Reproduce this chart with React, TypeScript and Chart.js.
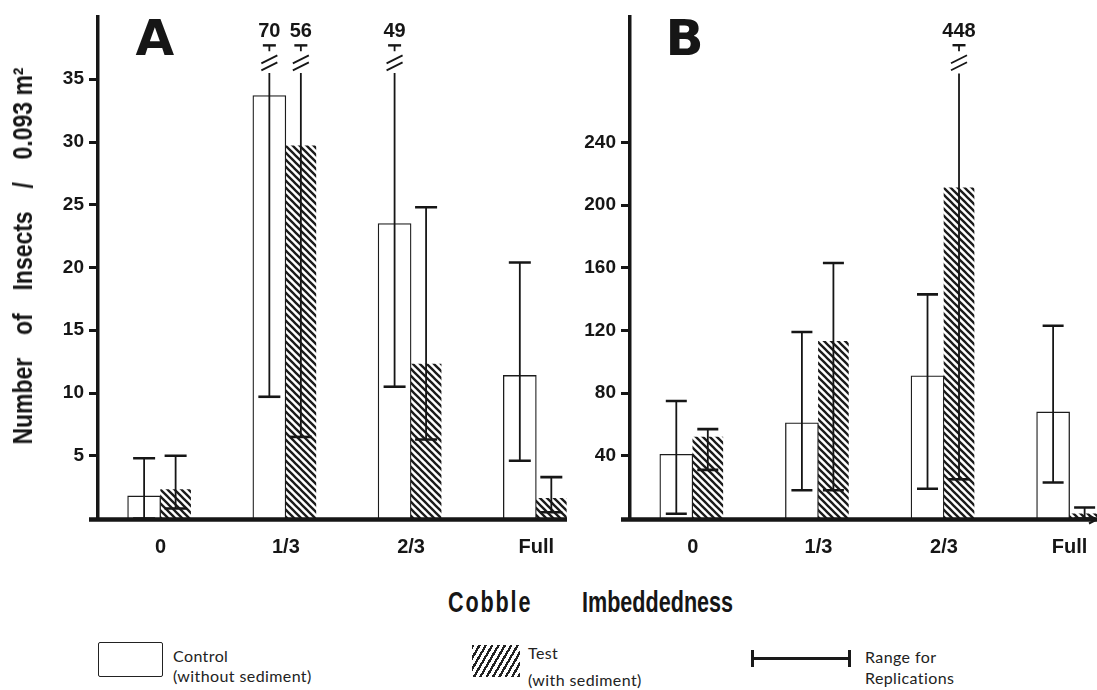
import React, { useEffect, useRef } from 'react';
import { Chart, registerables } from 'chart.js';

Chart.register(...registerables);

// ---------- data ----------
const categories = ['0', '1/3', '2/3', 'Full'];
const catPos = [0, 1, 2, 3];

// Panel A
const controlA = [1.8, 33.7, 23.5, 11.4];
const testA = [2.3, 29.7, 12.3, 1.6];
const controlALow = [0, 9.7, 10.5, 4.6];
const controlAHigh = [4.8, 70, 49, 20.4];
const testALow = [0.8, 6.5, 6.3, 0.5];
const testAHigh = [5.0, 56, 24.8, 3.3];
const ticksA = [5, 10, 15, 20, 25, 30, 35];

// Panel B
const controlB = [41, 61, 91, 68];
const testB = [52, 113, 211, 3];
const controlBLow = [3, 18, 19, 23];
const controlBHigh = [75, 119, 143, 123];
const testBLow = [31, 18, 25, 0];
const testBHigh = [57, 163, 448, 7];
const ticksB = [40, 80, 120, 160, 200, 240];

const INK = '#161616';
const SANS = '"Liberation Sans", Arial, sans-serif';
const LEGEND = 'Lato, "Open Sans", sans-serif';

function makeHatch(): CanvasPattern | string {
  const s = 7;
  const c = document.createElement('canvas');
  c.width = s;
  c.height = s;
  const g = c.getContext('2d');
  if (!g) return '#555';
  g.strokeStyle = '#1a1a1a';
  g.lineWidth = 2.3;
  for (const k of [-1, 0, 1]) {
    g.beginPath();
    g.moveTo(-1, -1 + k * s);
    g.lineTo(s + 1, s + 1 + k * s);
    g.stroke();
  }
  return g.createPattern(c, 'repeat') || '#555';
}

const rangePlugin = {
  id: 'rangeBars',
  afterDatasetsDraw(chart: any, _args: any, opts: any) {
    const ctx = chart.ctx;
    const y = chart.scales.y;
    ctx.save();
    ctx.strokeStyle = INK;
    ctx.fillStyle = INK;
    ctx.font = `bold 20px ${SANS}`;
    ctx.textAlign = 'center';
    ctx.textBaseline = 'middle';
    opts.ranges.forEach((r: any, di: number) => {
      const meta = chart.getDatasetMeta(di);
      meta.data.forEach((bar: any, j: number) => {
        const x = bar.x;
        const lo = r.low[j];
        const hi = r.high[j];
        const broken = hi > y.max;
        const yLo = y.getPixelForValue(lo);
        const yHi = y.getPixelForValue(broken ? opts.breakAt : hi);
        ctx.lineWidth = 1.8;
        ctx.beginPath();
        ctx.moveTo(x, yLo);
        ctx.lineTo(x, yHi);
        ctx.stroke();
        ctx.lineWidth = 2.6;
        ctx.beginPath();
        ctx.moveTo(x - opts.capHalf, yLo);
        ctx.lineTo(x + opts.capHalf, yLo);
        if (!broken) {
          ctx.moveTo(x - opts.capHalf, yHi);
          ctx.lineTo(x + opts.capHalf, yHi);
        }
        ctx.stroke();
        if (broken) {
          const yc = y.getPixelForValue(opts.capAt);
          ctx.lineWidth = 1.8;
          ctx.beginPath();
          ctx.moveTo(x, yc);
          ctx.lineTo(x, yc + 6);
          ctx.moveTo(x - 8, yc + 18);
          ctx.lineTo(x + 8, yc + 10);
          ctx.moveTo(x - 8, yc + 25);
          ctx.lineTo(x + 8, yc + 17);
          ctx.stroke();
          ctx.lineWidth = 2.4;
          ctx.beginPath();
          ctx.moveTo(x - 6.5, yc);
          ctx.lineTo(x + 6.5, yc);
          ctx.stroke();
          ctx.fillText(String(hi), x, yc - 14);
        }
      });
    });
    // baseline
    const area = chart.chartArea;
    const y0 = y.getPixelForValue(0) + 1;
    ctx.lineWidth = 4.5;
    ctx.beginPath();
    ctx.moveTo(area.left - opts.extendLeft, y0);
    ctx.lineTo(area.right, y0);
    ctx.stroke();
    if (opts.arrow) {
      ctx.beginPath();
      ctx.moveTo(area.right - 8, y0 - 4);
      ctx.lineTo(area.right, y0);
      ctx.lineTo(area.right - 8, y0 + 4);
      ctx.lineWidth = 2;
      ctx.stroke();
    }
    ctx.restore();
  },
};

interface Panel {
  control: number[];
  test: number[];
  controlLow: number[];
  controlHigh: number[];
  testLow: number[];
  testHigh: number[];
  ticks: number[];
  yMax: number;
  xMax: number;
  yWidth: number;
  padTop: number;
  padRight: number;
  xHeight: number;
  breakAt: number;
  capAt: number;
  capHalf: number;
  arrow: boolean;
}

function buildConfig(p: Panel, hatch: any): any {
  return {
    type: 'bar',
    data: {
      datasets: [
        {
          label: 'Control',
          data: catPos.map((x, i) => ({ x, y: p.control[i] })),
          backgroundColor: '#ffffff',
          borderColor: '#1c1c1c',
          borderWidth: 1.3,
          barThickness: 33,
        },
        {
          label: 'Test',
          data: catPos.map((x, i) => ({ x, y: p.test[i] })),
          backgroundColor: hatch,
          borderWidth: 0,
          barThickness: 30,
        },
      ],
    },
    options: {
      responsive: false,
      animation: false,
      events: [],
      layout: { padding: { top: p.padTop, right: p.padRight, left: 0, bottom: 0 } },
      plugins: {
        legend: { display: false },
        tooltip: { enabled: false },
        rangeBars: {
          ranges: [
            { low: p.controlLow, high: p.controlHigh },
            { low: p.testLow, high: p.testHigh },
          ],
          breakAt: p.breakAt,
          capAt: p.capAt,
          capHalf: p.capHalf,
          extendLeft: 9,
          arrow: p.arrow,
        },
      },
      scales: {
        x: {
          type: 'linear',
          min: -0.5,
          max: p.xMax,
          offset: false,
          grid: { display: false, drawTicks: false },
          border: { display: false },
          afterBuildTicks: (s: any) => {
            s.ticks = catPos.map((v) => ({ value: v }));
          },
          afterFit: (s: any) => {
            s.height = p.xHeight;
            s.paddingLeft = 0;
            s.paddingRight = 0;
          },
          ticks: {
            autoSkip: false,
            maxRotation: 0,
            padding: 17,
            color: INK,
            font: { family: SANS, weight: 'bold', size: 20 },
            callback: (v: number) => categories[catPos.indexOf(v)],
          },
        },
        y: {
          type: 'linear',
          min: 0,
          max: p.yMax,
          afterBuildTicks: (s: any) => {
            s.ticks = p.ticks.map((v) => ({ value: v }));
          },
          afterFit: (s: any) => {
            s.width = p.yWidth;
            s.paddingTop = 0;
            s.paddingBottom = 0;
          },
          grid: {
            drawOnChartArea: false,
            drawTicks: true,
            tickLength: 9,
            tickWidth: 3,
            tickColor: INK,
          },
          border: { display: true, color: INK, width: 3.5 },
          ticks: {
            padding: 5,
            color: INK,
            font: { family: SANS, weight: 'bold', size: 19 },
          },
        },
      },
    },
    plugins: [rangePlugin],
  };
}

const panelA: Panel = {
  control: controlA,
  test: testA,
  controlLow: controlALow,
  controlHigh: controlAHigh,
  testLow: testALow,
  testHigh: testAHigh,
  ticks: ticksA,
  yMax: 40,
  xMax: 3.245,
  yWidth: 98,
  padTop: 16.5,
  padRight: 13,
  xHeight: 61.5,
  breakAt: 35.5,
  capAt: 37.7,
  capHalf: 11,
  arrow: false,
};

const panelB: Panel = {
  control: controlB,
  test: testB,
  controlLow: controlBLow,
  controlHigh: controlBHigh,
  testLow: testBLow,
  testHigh: testBHigh,
  ticks: ticksB,
  yMax: 320,
  xMax: 3.218,
  yWidth: 70,
  padTop: 17,
  padRight: 0,
  xHeight: 61.5,
  breakAt: 284,
  capAt: 302,
  capHalf: 10.5,
  arrow: true,
};

function abs(left: number, top: number, extra: React.CSSProperties = {}): React.CSSProperties {
  return { position: 'absolute', left, top, lineHeight: 1, whiteSpace: 'nowrap', color: INK, ...extra };
}

export default function App() {
  const refA = useRef<HTMLCanvasElement>(null);
  const refB = useRef<HTMLCanvasElement>(null);

  useEffect(() => {
    const hatch = makeHatch();
    const charts: Chart[] = [];
    if (refA.current) charts.push(new Chart(refA.current, buildConfig(panelA, hatch)));
    if (refB.current) charts.push(new Chart(refB.current, buildConfig(panelB, hatch)));
    return () => charts.forEach((c) => c.destroy());
  }, []);

  const legendText: React.CSSProperties = { fontFamily: LEGEND, fontSize: 16, letterSpacing: 0.4, color: '#222' };
  const titleFont: React.CSSProperties = { fontFamily: SANS, fontWeight: 'bold' };

  return (
    <div style={{ position: 'absolute', left: 0, top: 0, width: 1097, height: 690, overflow: 'hidden', background: '#fff' }}>
      <canvas ref={refA} width={580} height={580} style={{ position: 'absolute', left: 0, top: 0, width: 580, height: 580 }} />
      <canvas ref={refB} width={537} height={580} style={{ position: 'absolute', left: 560, top: 0, width: 537, height: 580 }} />

      {/* panel letters */}
      <div style={abs(135.5, 12.7, { fontFamily: '"DejaVu Sans", sans-serif', fontWeight: 'bold', fontSize: 50 })}>A</div>
      <div style={abs(665.5, 12.7, { fontFamily: '"DejaVu Sans", sans-serif', fontWeight: 'bold', fontSize: 50 })}>B</div>

      {/* y title */}
      <div
        style={abs(23, 256, {
          ...titleFont,
          fontSize: 28,
          wordSpacing: 20,
          transform: 'translate(-50%, -50%) rotate(-90deg) scaleX(0.82)',
        })}
      >
        Number of Insects / 0.093<span style={{ wordSpacing: 0 }}> m²</span>
      </div>

      {/* x title */}
      <div style={abs(448, 587.5, { ...titleFont, fontSize: 29, letterSpacing: 2.5, transform: 'scaleX(0.744)', transformOrigin: 'left center' })}>
        Cobble
      </div>
      <div style={abs(582, 587.5, { ...titleFont, fontSize: 29, transform: 'scaleX(0.744)', transformOrigin: 'left center' })}>
        Imbeddedness
      </div>

      {/* legend */}
      <div style={{ position: 'absolute', left: 98, top: 642, width: 65, height: 35, boxSizing: 'border-box', border: '1.6px solid #222', borderRadius: 2 }} />
      <div style={abs(173, 647.8, legendText)}>Control</div>
      <div style={abs(173, 667.8, legendText)}>(without sediment)</div>

      <div
        style={{
          position: 'absolute',
          left: 472,
          top: 645,
          width: 48,
          height: 32,
          background: 'repeating-linear-gradient(120deg, #222 0px, #222 2.3px, transparent 2.3px, transparent 5.5px)',
        }}
      />
      <div style={abs(528, 644.8, legendText)}>Test</div>
      <div style={abs(528, 671.8, legendText)}>(with sediment)</div>

      <div style={{ position: 'absolute', left: 752, top: 657, width: 98, height: 2.6, background: '#1a1a1a' }} />
      <div style={{ position: 'absolute', left: 751, top: 650, width: 2.6, height: 17, background: '#1a1a1a' }} />
      <div style={{ position: 'absolute', left: 848, top: 650, width: 2.6, height: 17, background: '#1a1a1a' }} />
      <div style={abs(865, 648.8, legendText)}>Range for</div>
      <div style={abs(865, 669.8, legendText)}>Replications</div>
    </div>
  );
}
